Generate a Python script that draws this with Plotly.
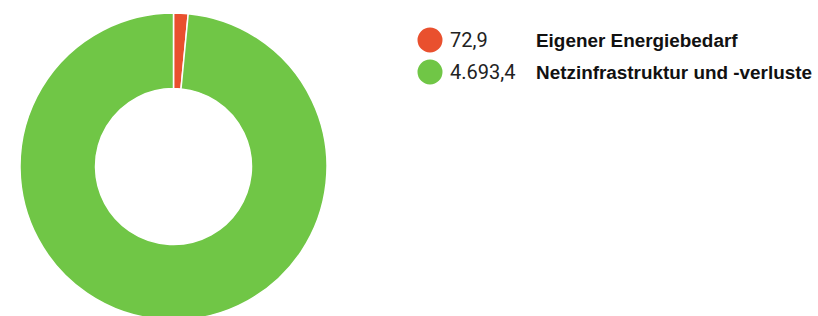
import plotly.graph_objects as go

labels = ["Eigener Energiebedarf", "Netzinfrastruktur und -verluste"]
values = [72.9, 4693.4]
value_labels = ["72,9", "4.693,4"]
colors = ["#E9502E", "#70C646"]

W, H = 818, 324  # slightly taller than the window so the donut is cut at the bottom like the reference

def px(x):
    return x / W

def py(y):
    return 1 - y / H

fig = go.Figure(go.Pie(
    labels=labels, values=values, hole=0.508, sort=False, direction="clockwise",
    rotation=0, marker=dict(colors=colors, line=dict(color="white", width=1.5)),
    textinfo="none", hoverinfo="label+value", showlegend=False,
    domain=dict(x=[px(20), px(327)], y=[py(320), py(13)]),
))

row_y = [40, 72]
shapes, annotations = [], []
for i, (lab, vl, col) in enumerate(zip(labels, value_labels, colors)):
    cy = row_y[i]
    shapes.append(dict(type="circle", xref="paper", yref="paper",
                       x0=px(430 - 12.5), x1=px(430 + 12.5),
                       y0=py(cy + 12.5), y1=py(cy - 12.5),
                       fillcolor=col, line=dict(width=0)))
    annotations.append(dict(x=px(448), y=py(cy), xref="paper", yref="paper",
                            text=vl, showarrow=False, xanchor="left", yanchor="middle",
                            font=dict(family="Roboto", size=20, color="#222222")))
    annotations.append(dict(x=px(534), y=py(cy), xref="paper", yref="paper",
                            text="<b>" + lab + "</b>", showarrow=False, xanchor="left",
                            yanchor="middle",
                            font=dict(family="Liberation Sans", size=18.9, color="#111111")))

fig.update_layout(width=W, height=H, margin=dict(l=0, r=0, t=0, b=0),
                  paper_bgcolor="white", plot_bgcolor="white",
                  shapes=shapes, annotations=annotations,
                  font=dict(family="Roboto"))
fig.write_html("out.html", config={"displayModeBar": False},
               post_script="document.body.style.margin='0';document.body.style.overflow='hidden';")
